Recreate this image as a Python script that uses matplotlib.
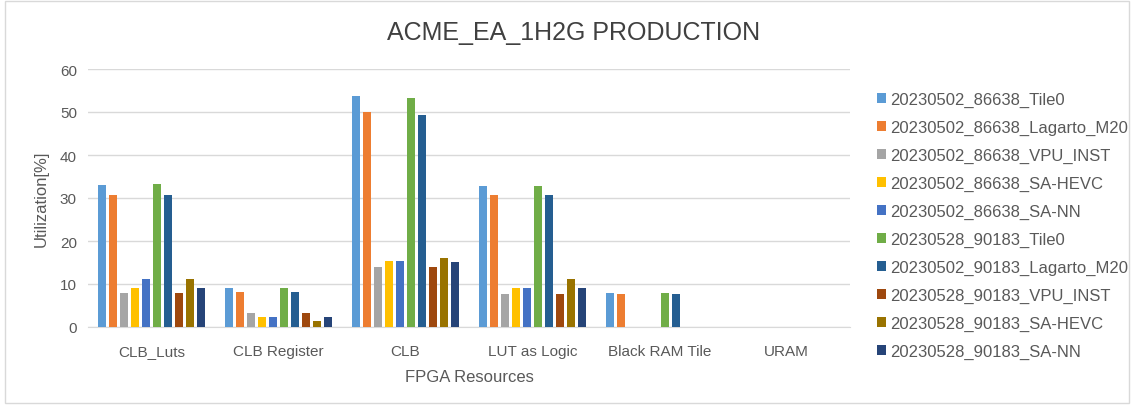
import numpy as np
import matplotlib.pyplot as plt
from matplotlib.patches import Rectangle

plt.rcParams['font.family'] = ['Liberation Sans', 'DejaVu Sans']

# FPGA resource categories and utilization per build
resources = ['CLB_Luts', 'CLB Register', 'CLB', 'LUT as Logic', 'Black RAM Tile', 'URAM']
builds = [
    '20230502_86638_Tile0',
    '20230502_86638_Lagarto_M20',
    '20230502_86638_VPU_INST',
    '20230502_86638_SA-HEVC',
    '20230502_86638_SA-NN',
    '20230528_90183_Tile0',
    '20230502_90183_Lagarto_M20',
    '20230528_90183_VPU_INST',
    '20230528_90183_SA-HEVC',
    '20230528_90183_SA-NN',
]
tile0_86638 = [33.0, 9.0, 53.8, 32.8, 8.0, 0]
lagarto_86638 = [30.8, 8.2, 50.0, 30.6, 7.6, 0]
vpu_86638 = [7.8, 3.3, 14.0, 7.6, 0, 0]
hevc_86638 = [9.0, 2.3, 15.4, 9.0, 0, 0]
nn_86638 = [11.2, 2.3, 15.4, 9.0, 0, 0]
tile0_90183 = [33.2, 9.0, 53.2, 32.8, 8.0, 0]
lagarto_90183 = [30.8, 8.2, 49.4, 30.6, 7.6, 0]
vpu_90183 = [7.8, 3.3, 14.0, 7.6, 0, 0]
hevc_90183 = [11.2, 1.5, 16.0, 11.2, 0, 0]
nn_90183 = [9.0, 2.3, 15.2, 9.0, 0, 0]

series = [tile0_86638, lagarto_86638, vpu_86638, hevc_86638, nn_86638,
          tile0_90183, lagarto_90183, vpu_90183, hevc_90183, nn_90183]
colors = ['#5B9BD5', '#ED7D31', '#A5A5A5', '#FFC000', '#4472C4',
          '#70AD47', '#255E91', '#9E480E', '#997300', '#264478']

fig = plt.figure(figsize=(11.34, 4.06), dpi=100)
fig.patches.append(Rectangle((0.004, 0.006), 0.992, 0.988, transform=fig.transFigure,
                             fill=False, edgecolor='#D9D9D9', linewidth=1))
ax = fig.add_axes([88 / 1134, 1 - 328 / 406, 762 / 1134, 258 / 406])

x = np.arange(len(resources))
slot = 0.087
width = 0.066
for i, (vals, col, name) in enumerate(zip(series, colors, builds)):
    offs = (i - 4.5) * slot
    ax.bar(x + offs, vals, width=width, color=col, label=name, zorder=3)

ax.set_xlim(-0.5, len(resources) - 0.5)
ax.set_ylim(0, 60)
ax.set_yticks(range(0, 61, 10))
ax.set_xticks(x)
ax.set_xticklabels(resources)
ax.grid(axis='y', color='#D9D9D9', linewidth=1, zorder=0)
for side in ['top', 'right', 'left']:
    ax.spines[side].set_visible(False)
ax.spines['bottom'].set_color('#D9D9D9')
ax.tick_params(axis='x', length=0, labelsize=11, colors='#595959', pad=12)
ax.tick_params(axis='y', length=0, labelsize=11, colors='#595959', pad=8)

ax.set_xlabel('FPGA Resources', fontsize=12, color='#595959', labelpad=8)
ax.set_ylabel('Utilization[%]', fontsize=12, color='#595959', labelpad=8)
fig.text(0.506, 0.918, 'ACME_EA_1H2G PRODUCTION', ha='center', va='center',
         fontsize=18, color='#404040')

ax.legend(loc='upper left', bbox_to_anchor=((862 - 88) / 762, 1.0 - 8 / 258),
          frameon=False, fontsize=12, labelcolor='#595959', handlelength=0.55,
          handleheight=0.55, handletextpad=0.25, labelspacing=0.77)

fig.savefig('out.png', dpi=100)
